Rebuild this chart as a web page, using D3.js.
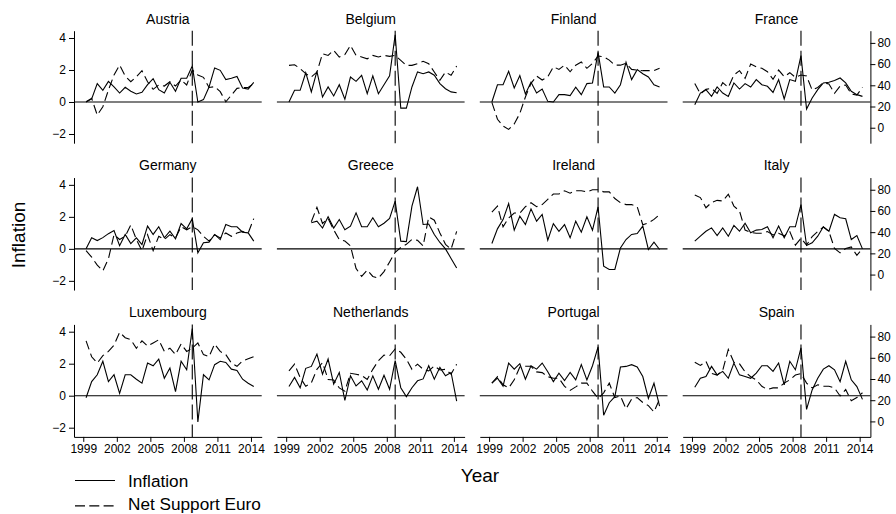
<!DOCTYPE html>
<html>
<head>
<meta charset="utf-8">
<script src="https://cdn.jsdelivr.net/npm/d3@7"></script>
<style>
  html, body { margin: 0; padding: 0; background: #fff; }
  svg { display: block; }
  text { font-family: "Liberation Sans", Arial, Helvetica, sans-serif; fill: #000; }
</style>
</head>
<body>
<svg id="chart" width="896" height="514"></svg>
<script>
// Survey waves (spring / autumn), 1999 to 2014
const waves = [1999.25, 1999.75, 2000.25, 2000.75, 2001.25, 2001.75, 2002.25, 2002.75,
  2003.25, 2003.75, 2004.25, 2004.75, 2005.25, 2005.75, 2006.25, 2006.75,
  2007.25, 2007.75, 2008.25, 2008.75, 2009.25, 2009.75, 2010.25, 2010.75,
  2011.25, 2011.75, 2012.25, 2012.75, 2013.25, 2013.75, 2014.25];

const countries = ["Austria", "Belgium", "Finland", "France",
  "Germany", "Greece", "Ireland", "Italy",
  "Luxembourg", "Netherlands", "Portugal", "Spain"];

// Inflation (left axis) and net support for the euro (right axis), per country
const austriaInflation = [0, 0.19, 1.15, 0.73, 1.29, 0.94, 0.56, 0.92, 0.67, 0.5, 0.6, 1.08, 1.46, 0.77, 0.56, 1.23, 0.67, 1.48, 1.48, 2.25, 0, 0.15, 0.94, 2.13, 1.98, 1.4, 1.48, 1.6, 0.88, 0.81, 1.23];
const austriaSupport = [24.5, 27.7, 11.9, 19.8, 35.5, 49.7, 59.1, 48.7, 43.4, 48.1, 53.8, 43.4, 36.2, 40.3, 39.3, 43.4, 39.3, 45, 40.3, 54.4, 49.7, 47.5, 38, 38.7, 34, 24.5, 30.8, 37.1, 38, 38, 41.8];

const belgiumInflation = [0, 0.73, 0.73, 1.83, 0.63, 1.92, 0.31, 0.94, 0.38, 1.08, 0.17, 1.56, 1.29, 1.67, 0.52, 1.63, 0.52, 1.08, 1.63, 4.2, -0.38, -0.38, 0.94, 1.88, 1.77, 1.88, 1.67, 1.15, 0.83, 0.63, 0.58];
const belgiumSupport = [58.8, 59.4, 55.7, 51, 47.8, 52.5, 69.8, 68.2, 73, 66.7, 69, 77.7, 68.2, 66.7, 65, 68.2, 66.7, 68.2, 67.3, 68.2, 63.5, 58.8, 58.8, 60.4, 62.6, 60.4, 52.5, 44.7, 52.5, 49.4, 58.2];

const finlandInflation = [0, 1.08, 1.08, 1.92, 0.88, 1.65, 0.5, 1.23, 0.56, 0.81, 0.04, 0, 0.46, 0.46, 0.4, 0.92, 0.46, 1.15, 1.19, 3.1, 0.94, 0.94, 0.56, 1.08, 2.48, 1.4, 2.02, 1.77, 1.56, 1.08, 0.94];
const finlandSupport = [23.9, 8, 1.6, -1.6, 3.5, 13.5, 29, 41.8, 48.7, 45, 48, 57.5, 55, 59, 52.8, 59, 62, 56, 60.7, 67.6, 67, 63.8, 59, 59, 60.7, 55, 54.4, 53.8, 53.8, 53.8, 56];

const franceInflation = [-0.17, 0.56, 0.77, 0.35, 0.94, 0.56, 0.35, 1.19, 0.81, 1.15, 0.94, 1.4, 1.08, 0.98, 0.6, 1.4, 0.19, 1.4, 1.29, 2.9, -0.44, 0.25, 0.77, 1.19, 1.23, 1.35, 1.5, 1.19, 0.67, 0.46, 0.35];
const franceSupport = [41.8, 31.8, 36.2, 37.1, 32.4, 42.5, 38, 49.7, 53.8, 46.5, 60, 57.5, 56, 52.8, 45.6, 54.4, 48.1, 51.9, 47.5, 49.7, 48.7, 35.5, 38, 42.5, 41.2, 32.4, 39.3, 40.3, 31.8, 30.8, 38];

const germanyInflation = [0, 0.69, 0.52, 0.7, 0.95, 1.15, 0.2, 0.9, 0.33, 0.69, 0.27, 1.42, 0.9, 1.38, 0.69, 1.1, 0.63, 1.58, 1.25, 1.88, -0.25, 0.38, 0.42, 0.9, 0.58, 1.52, 1.38, 1.38, 1.04, 1.0, 0.48];
const germanySupport = [22.5, 16.4, 8.9, 3.5, 14.9, 37.6, 33.1, 36.1, 46.7, 33.1, 22.5, 37.6, 22.5, 36.1, 33.1, 37.6, 34.6, 45.2, 42.2, 45.2, 42.2, 36.1, 31.6, 37.6, 34.6, 39.2, 36.1, 39.2, 40.7, 39.2, 52.8];

const greeceInflation = [null, null, null, null, 1.63, 1.73, 1.3, 2.0, 1.3, 1.83, 1.2, 1.42, 2.25, 1.38, 1.38, 1.94, 1.38, 1.6, 1.9, 2.98, 0.48, 0.45, 2.67, 3.88, 1.52, 1.55, 0.9, 0.4, 0.0, -0.6, -1.2];
const greeceSupport = [null, null, null, null, 49.8, 63.4, 48.2, 52.8, 42.2, 33.1, 31.6, 27, 5.8, -1.8, 4.3, -1.8, -3.3, 2.8, 11.9, 21, 25.5, 28.5, 33.1, 32.3, 27, 54.3, 51.3, 39.2, 28.5, 24, 40.7];

const irelandInflation = [0.33, 1.25, 1.83, 2.83, 1.17, 2.04, 1.52, 2.5, 1.73, 2.15, 0.54, 1.58, 1.1, 1.52, 0.69, 1.73, 1.04, 2.0, 1.17, 2.62, -1.08, -1.29, -1.29, 0.06, 0.58, 0.9, 0.96, 1.42, -0.04, 0.42, -0.04];
const irelandSupport = [58.9, 64.6, 45, 53.4, 58, 58, 64, 67.8, 64, 66, 71, 76, 76, 79, 76.8, 79, 79, 78, 80, 80, 78, 78, 71.7, 67.8, 66, 66, 64, 47, 48.6, 52, 56.6];

const italyInflation = [0.48, 0.8, 1.1, 1.31, 0.83, 1.31, 0.79, 1.46, 1.1, 1.6, 1.0, 1.17, 1.21, 1.38, 0.69, 1.42, 0.69, 1.38, 1.38, 2.77, 0.21, 0.38, 0.79, 1.38, 1.1, 2.15, 1.94, 1.88, 0.58, 0.83, 0.0];
const italySupport = [75, 72.6, 63, 68, 70, 69.4, 75.8, 64.6, 60, 42, 39.7, 39, 39, 40.6, 37.4, 39, 36.5, 40.6, 27.8, 34.2, 27.8, 35.8, 40.6, 44.8, 40.6, 24.6, 20.5, 24.6, 26, 18.2, 24.6];

const luxembourgInflation = [-0.13, 0.88, 1.31, 2.15, 0.88, 1.31, 0.15, 1.31, 1.31, 1.03, 0.78, 2.04, 1.87, 2.29, 1.09, 1.73, 0.25, 2.15, 1.62, 4.2, -1.64, 1.31, 0.99, 1.94, 2.15, 2.08, 1.66, 1.58, 1.03, 0.78, 0.57];
const luxembourgSupport = [76, 61, 55, 62, 66, 72, 84, 79, 77, 69, 76, 71, 74, 77, 66, 69, 63, 73, 66, 69, 74, 63, 61, 73, 66, 63, 55, 52, 57, 59, 61];

const netherlandsInflation = [0.57, 1.14, 0.5, 1.71, 1.83, 2.6, 1.35, 2.29, 0.72, 1.45, -0.3, 1.24, 0.61, 0.93, 0.36, 1.24, 0.4, 1.28, 0.4, 2.19, 0.5, -0.06, 0.5, 0.93, 1.05, 1.87, 1.03, 1.77, 1.25, 1.45, -0.34];
const netherlandsSupport = [47.6, 54, 41.3, 33.2, 36.4, 49.1, 55.5, 39.6, 39, 31.6, 28.5, 45.4, 44.5, 43.4, 39.6, 49.1, 57.2, 62.6, 61.9, 68.4, 65.2, 58.7, 49.1, 54, 49.1, 47.6, 52.3, 48.5, 49.1, 44.5, 54];

const portugalInflation = [0.78, 1.1, 0.6, 2.04, 1.66, 2.0, 1.03, 1.87, 1.66, 2.04, 1.5, 0.88, 1.41, 0.95, 1.45, 0.99, 1.94, 0.99, 1.87, 3.05, -1.22, -0.44, -0.06, 1.79, 1.83, 1.94, 1.79, 1.2, -0.17, 0.78, -0.65];
const portugalSupport = [36.1, 42.2, 34.6, 31.6, 39.2, 51.3, 52, 52, 46.7, 46, 42.2, 40.7, 40.7, 33.1, 29.3, 32.6, 36.1, 36.1, 28.5, 21.7, 27, 36.1, 22.5, 24, 11.9, 21, 22.5, 17.9, 14.9, 8.9, 21];

const spainInflation = [0.53, 1.09, 1.2, 1.83, 1.3, 1.52, 1.09, 2.04, 1.3, 1.2, 1.09, 1.41, 1.87, 1.87, 1.52, 2.04, 0.67, 2.15, 1.62, 2.99, -0.86, 0.36, 1.09, 1.66, 1.87, 1.62, 0.88, 2.15, 0.99, 0.57, -0.23];
const spainSupport = [55.8, 52.8, 56.6, 45.2, 43.7, 48.2, 67.9, 55.8, 54.3, 46.7, 42.2, 39.2, 33.1, 30.1, 31.6, 31.6, 36.1, 39.2, 43.7, 45.2, 36.1, 31.6, 34.6, 33.1, 33.1, 31.6, 24, 30.1, 19.5, 22.5, 27];

const inflationSeries = [austriaInflation, belgiumInflation, finlandInflation, franceInflation,
  germanyInflation, greeceInflation, irelandInflation, italyInflation,
  luxembourgInflation, netherlandsInflation, portugalInflation, spainInflation];
const supportSeries = [austriaSupport, belgiumSupport, finlandSupport, franceSupport,
  germanySupport, greeceSupport, irelandSupport, italySupport,
  luxembourgSupport, netherlandsSupport, portugalSupport, spainSupport];

const yearTicks = [1999, 2002, 2005, 2008, 2011, 2014];
const inflationTicks = [-2, 0, 2, 4];
const supportTicks = [0, 20, 40, 60, 80];
const crisisDate = 2008.75;

// Panel grid
const nCols = 4;
const panelW = 187.7, panelH = 112.5;
const colStep = 202.9, rowStep = 146.85;
const originX = 74, originY = 30.7;
const fontFamily = '"Liberation Sans", Arial, Helvetica, sans-serif';
const dashPattern = "9,4.5";

const svg = d3.select("#chart");

function styleAxis(g) {
  g.attr("font-family", fontFamily).attr("font-size", 12);
  g.selectAll("path.domain").attr("stroke", "#000").attr("stroke-width", 1);
  g.selectAll(".tick line").attr("stroke", "#000").attr("stroke-width", 1);
  g.selectAll(".tick text").attr("fill", "#000");
}

countries.forEach((name, i) => {
  const col = i % nCols, row = Math.floor(i / nCols);
  const left = originX + col * colStep;
  const top = originY + row * rowStep;

  const x = d3.scaleLinear().domain([1998.17, 2014.96]).range([left, left + panelW]);
  const yInf = d3.scaleLinear().domain([-2.575, 4.456]).range([top + panelH, top]);
  const ySup = d3.scaleLinear().domain([-14.6, 91.5]).range([top + panelH, top]);

  const g = svg.append("g").attr("class", "panel");

  // panel title
  g.append("text")
    .attr("x", left + panelW / 2)
    .attr("y", top - 7.2)
    .attr("text-anchor", "middle")
    .attr("font-size", 14)
    .text(name);

  // zero-inflation reference line
  g.append("line")
    .attr("x1", left).attr("x2", left + panelW)
    .attr("y1", yInf(0)).attr("y2", yInf(0))
    .attr("stroke", "#000").attr("stroke-width", 1.1);

  // crisis marker
  g.append("line")
    .attr("x1", x(crisisDate)).attr("x2", x(crisisDate))
    .attr("y1", top).attr("y2", top + panelH)
    .attr("stroke", "#000").attr("stroke-width", 1.1)
    .attr("stroke-dasharray", "15,5");

  const infPts = waves.map((t, k) => [t, inflationSeries[i][k]]);
  const supPts = waves.map((t, k) => [t, supportSeries[i][k]]);

  const lineInf = d3.line().defined(d => d[1] != null).x(d => x(d[0])).y(d => yInf(d[1]));
  const lineSup = d3.line().defined(d => d[1] != null).x(d => x(d[0])).y(d => ySup(d[1]));

  g.append("path").datum(supPts)
    .attr("d", lineSup)
    .attr("fill", "none").attr("stroke", "#000").attr("stroke-width", 1.1)
    .attr("stroke-dasharray", dashPattern);

  g.append("path").datum(infPts)
    .attr("d", lineInf)
    .attr("fill", "none").attr("stroke", "#000").attr("stroke-width", 1.1)
    .attr("stroke-linejoin", "miter");

  if (col === 0) {
    g.append("g")
      .attr("transform", `translate(${left},0)`)
      .call(d3.axisLeft(yInf).tickValues(inflationTicks).tickFormat(d3.format("d"))
        .tickSize(5).tickSizeOuter(0).tickPadding(3))
      .call(styleAxis);
  }
  if (col === nCols - 1) {
    g.append("g")
      .attr("transform", `translate(${left + panelW},0)`)
      .call(d3.axisRight(ySup).tickValues(supportTicks).tickFormat(d3.format("d"))
        .tickSize(5).tickSizeOuter(0).tickPadding(2))
      .call(styleAxis);
  }
  if (row === 2) {
    g.append("g")
      .attr("transform", `translate(0,${top + panelH})`)
      .call(d3.axisBottom(x).tickValues(yearTicks).tickFormat(d3.format("d"))
        .tickSize(5).tickSizeOuter(0).tickPadding(3))
      .call(styleAxis);
  }
});

// axis titles
svg.append("text")
  .attr("transform", "translate(25,235) rotate(-90)")
  .attr("text-anchor", "middle")
  .attr("font-size", 19)
  .text("Inflation");

svg.append("text")
  .attr("x", 480).attr("y", 481.5)
  .attr("text-anchor", "middle")
  .attr("font-size", 19)
  .text("Year");

// legend
const legendItems = [
  { label: "Inflation", dash: null, y: 480.5, base: 486.7 },
  { label: "Net Support Euro", dash: "10,4.3", y: 505.8, base: 510.3 }
];
const legend = svg.append("g").attr("class", "legend");
legendItems.forEach(item => {
  legend.append("line")
    .attr("x1", 75).attr("x2", 115)
    .attr("y1", item.y).attr("y2", item.y)
    .attr("stroke", "#000").attr("stroke-width", 1.2)
    .attr("stroke-dasharray", item.dash);
  legend.append("text")
    .attr("x", 128).attr("y", item.base)
    .attr("font-size", 17.2)
    .text(item.label);
});
</script>
</body>
</html>
